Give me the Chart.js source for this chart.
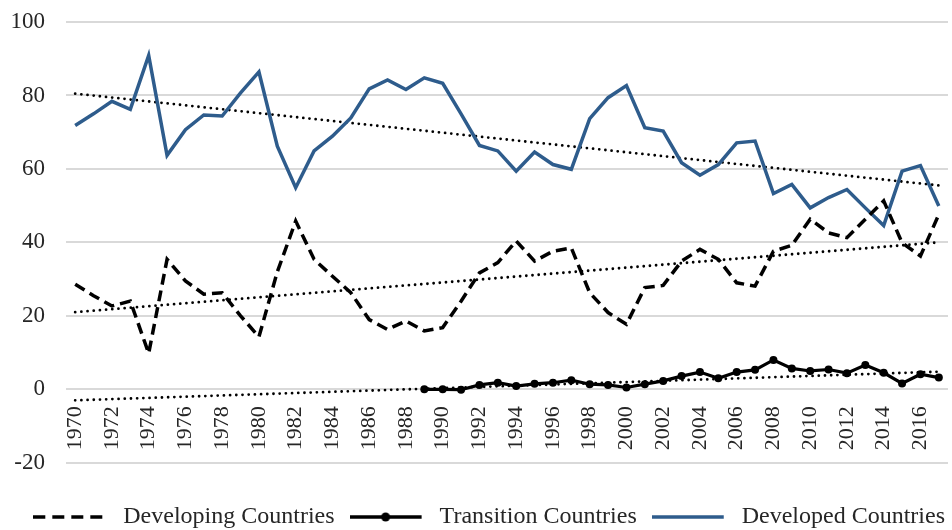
<!DOCTYPE html>
<html>
<head>
<meta charset="utf-8">
<script src="https://cdn.jsdelivr.net/npm/chart.js@4.4.1/dist/chart.umd.min.js"></script>
<style>
html,body{margin:0;padding:0;background:#fff;}
#wrap{width:952px;height:530px;position:relative;}
</style>
</head>
<body>
<div id="wrap"><canvas id="c" width="952" height="530"></canvas></div>
<script>
const years = ["1970","1971","1972","1973","1974","1975","1976","1977","1978","1979",
"1980","1981","1982","1983","1984","1985","1986","1987","1988","1989",
"1990","1991","1992","1993","1994","1995","1996","1997","1998","1999",
"2000","2001","2002","2003","2004","2005","2006","2007","2008","2009",
"2010","2011","2012","2013","2014","2015","2016","2017"];

const developing = [28.6,25.5,22.7,24,9.8,35.4,29.5,25.9,26.3,20,
14.3,32,45.8,35.4,30.8,26.3,19,16.3,18.6,15.9,
16.8,24,31.7,34.5,40.4,34.9,37.6,38.5,26.3,20.9,
17.7,27.7,28.3,34.9,38.1,35.4,29,28.1,37.6,39.2,
46.3,42.6,41.3,46.3,51.3,39.9,36.3,47.6];

const transition = [null,null,null,null,null,null,null,null,null,null,
null,null,null,null,null,null,null,null,null,0,
0,-0.1,1.2,1.8,0.9,1.5,1.8,2.5,1.4,1.2,
0.5,1.4,2.3,3.6,4.7,3.0,4.7,5.3,8.0,5.7,
5.0,5.4,4.4,6.6,4.5,1.6,4.1,3.2];

const developed = [71.8,75,78.4,76.2,90.9,63.7,70.7,74.7,74.4,80.7,
86.4,66.2,54.9,64.9,68.9,73.9,81.8,84.2,81.6,84.8,
83.3,75,66.4,64.9,59.4,64.6,61.2,59.9,73.7,79.4,
82.7,71.2,70.3,61.7,58.3,61.2,67.1,67.6,53.3,55.8,
49.4,52.2,54.4,49.4,44.6,59.4,60.9,49.9];

// Trend line endpoints (1970 and 2017): developing, transition, developed
const trendStart = [21, -3, 80.5];
const trendEnd = [40, 4.8, 55.5];

const seriesNames = ["Developing Countries","Transition Countries","Developed Countries"];
const yTicks = [-20, 0, 20, 40, 60, 80, 100];

function trendData(i){
  const d = years.map(()=>null);
  d[0] = trendStart[i];
  d[years.length-1] = trendEnd[i];
  return d;
}

const BLUE = '#2e5c8c';
const FONT = "'Liberation Serif', 'Times New Roman', serif";

function makeMarker(color, dash, dot){
  const c = document.createElement('canvas');
  c.width = 78; c.height = 14;
  const g = c.getContext('2d');
  g.strokeStyle = color; g.lineWidth = 3.5;
  g.setLineDash(dash);
  g.beginPath(); g.moveTo(0,7); g.lineTo(72,7); g.stroke();
  if (dot){
    g.fillStyle = color;
    g.beginPath(); g.arc(36,7,4.5,0,Math.PI*2); g.fill();
  }
  return c;
}
const markers = [makeMarker('#000',[12,7],false), makeMarker('#000',[],true), makeMarker(BLUE,[],false)];

const trendStyle = {
  borderColor:'#000', borderWidth:2.8, borderDash:[0,6.2], borderCapStyle:'round',
  pointRadius:0, spanGaps:true, fill:false, tension:0, isTrend:true
};

function zeroPad(s){ s.paddingLeft = 0; s.paddingRight = 0; s.paddingTop = 0; s.paddingBottom = 0; }

new Chart(document.getElementById('c'), {
  type:'line',
  data:{
    labels: years,
    datasets:[
      {label:seriesNames[0], data:developing, borderColor:'#000', backgroundColor:'#000',
       borderWidth:3.5, borderDash:[11,6], pointRadius:0, tension:0, fill:false},
      {label:seriesNames[1], data:transition, borderColor:'#000', backgroundColor:'#000',
       borderWidth:3.2, pointRadius:4, pointHoverRadius:4, pointBackgroundColor:'#000', pointBorderWidth:0, tension:0, fill:false},
      {label:seriesNames[2], data:developed, borderColor:BLUE, backgroundColor:BLUE,
       borderWidth:3.5, pointRadius:0, tension:0, fill:false},
      Object.assign({label:'trend0', data:trendData(0)}, trendStyle),
      Object.assign({label:'trend1', data:trendData(1)}, trendStyle),
      Object.assign({label:'trend2', data:trendData(2)}, trendStyle)
    ]
  },
  options:{
    responsive:false,
    animation:false,
    layout:{padding:{left:10, right:-8, top:22, bottom:-9}},
    scales:{
      x:{
        position:{y:0},
        offset:true,
        grid:{display:false, drawTicks:false},
        border:{display:false},
        afterFit:zeroPad,
        afterUpdate:zeroPad,
        ticks:{
          autoSkip:false, minRotation:90, maxRotation:90, padding:17,
          color:'#262626', font:{family:FONT, size:22},
          callback:function(v,i){ return i % 2 === 0 ? years[i] : ''; }
        }
      },
      y:{
        min:-20, max:100,
        afterBuildTicks:function(s){ s.ticks = yTicks.map(v=>({value:v})); },
        afterFit:function(s){ zeroPad(s); s.width = 56; },
        grid:{color:'#d9d9d9', lineWidth:2, drawTicks:false},
        border:{display:false},
        ticks:{padding:21, color:'#262626', font:{family:FONT, size:23}}
      }
    },
    plugins:{
      tooltip:{enabled:false},
      legend:{
        position:'bottom',
        align:'end',
        title:{display:true, text:'', padding:{top:26, bottom:0}, font:{size:1}},
        labels:{
          usePointStyle:true, pointStyleWidth:78, padding:15,
          color:'#262626', font:{family:FONT, size:24},
          filter:function(item, data){ return !data.datasets[item.datasetIndex].isTrend; },
          generateLabels:function(chart){
            const items = Chart.defaults.plugins.legend.labels.generateLabels(chart);
            items.forEach(it=>{ if (it.datasetIndex < 3) it.pointStyle = markers[it.datasetIndex]; });
            return items;
          }
        }
      }
    }
  }
});
</script>
</body>
</html>
